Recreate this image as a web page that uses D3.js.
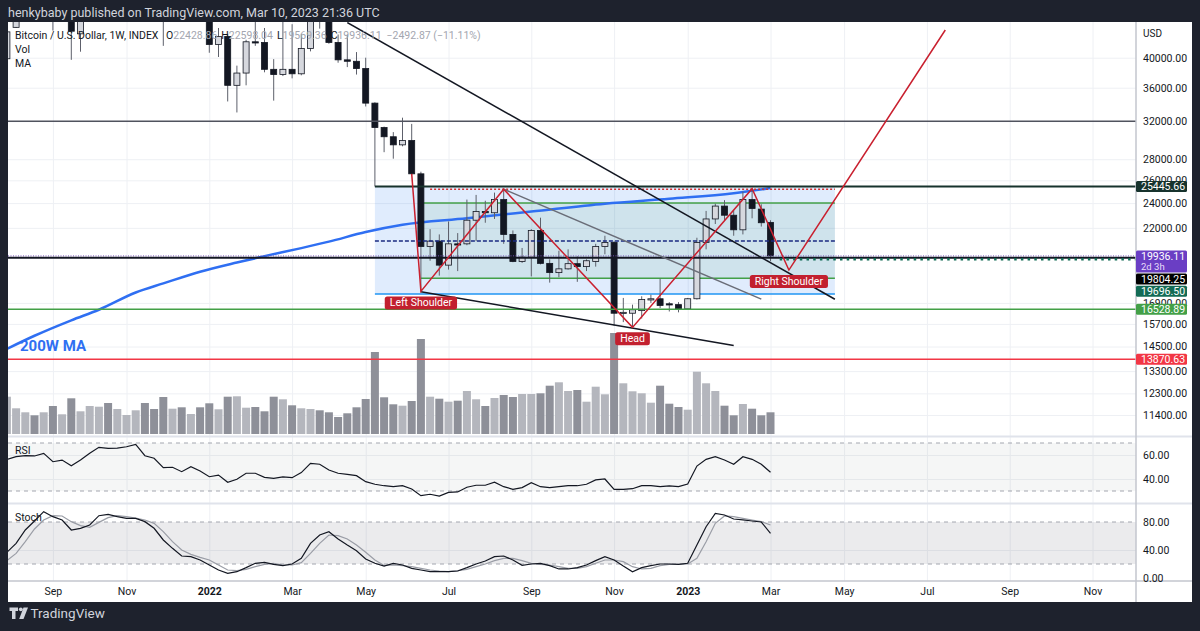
<!DOCTYPE html>
<html>
<head>
<meta charset="utf-8">
<script src="https://cdn.jsdelivr.net/npm/d3@7"></script>
<style>
  body { margin: 0; background: #1e222d; }
  svg { display: block; font-family: Roboto, "Liberation Sans", Arial, sans-serif; }
</style>
</head>
<body>
<svg id="chart" width="1200" height="631"></svg>
<script>
// ---- data ----
// weekly candles, Bitcoin / U.S. Dollar INDEX, first bar = week of 2 Aug 2021
var firstWeek = "2021-08-02";

var open = [39850,44500,47100,49300,48900,51800,46000,47300,43500,48200,
  54700,61500,60900,61300,63300,65500,59700,57200,49400,50100,
  46700,50800,47300,41900,43100,36300,37900,42300,42200,38400,
  37700,38400,37800,41300,46800,46400,42200,39700,39500,38500,
  34100,31300,30300,29450,29900,26600,20600,21000,19300,20800,
  20800,22600,23300,23200,24300,21500,19550,19850,21800,19420,
  18800,19050,19400,19200,19550,20600,20900,16300,16300,16450,
  17100,17150,16850,16800,16550,17150,20900,22700,23750,23000,
  21850,24300,23500,22428.86];
var high = [46000,48100,49500,50500,52900,52900,48800,47400,48400,56100,
  62000,67000,63700,64300,69000,66300,59800,59100,51900,50200,
  51900,52100,47600,44400,43500,38900,42600,45800,44400,39800,
  45400,45000,43500,47000,48200,47200,43400,43400,40800,40000,
  34200,31400,30800,32400,31700,26800,21900,21500,22500,21600,
  24300,24700,24200,24900,25200,21800,20500,21900,22800,19700,
  20300,20400,19900,19700,20800,21400,21000,17200,16800,17300,
  17400,18400,16950,16950,17200,21250,23350,23950,24250,23400,
  25000,25250,23900,22598.04];
var low = [37500,44400,45600,46400,46600,44000,45500,39700,40850,46900,
  53900,59600,58000,59400,62300,55600,53500,41700,47100,45500,
  45600,45700,40700,40100,34300,33000,36300,41700,38000,34400,
  37500,37200,37600,40900,44300,42000,39300,38700,37700,33700,
  25446,28700,28050,29300,26500,17600,19600,18600,19000,18900,
  20700,21000,22400,22700,20800,19500,19450,18550,19350,18150,
  18500,19000,18200,18900,19200,20050,15600,15800,15500,16000,
  16900,16600,16400,16350,16550,17100,20400,22300,22550,21400,
  21500,22750,22100,19569.36];
var close = [43800,47100,49300,48900,51800,46000,47300,43900,48200,54700,
  61500,60900,61300,63300,65500,59700,57200,49400,50100,46700,
  50800,47300,41900,43100,36300,37900,42300,42200,38400,37700,
  38400,37800,41300,46800,46400,42200,39700,39500,38500,34100,
  31300,30300,29450,29900,26600,20600,21000,19300,20800,20750,
  22600,23300,23200,24300,21500,19550,19850,21800,19420,18800,
  19050,19400,19200,19600,20600,20900,16300,16350,16500,17100,
  17150,16750,16780,16550,17150,20900,22700,23750,23000,21850,
  24300,23550,22400,19936.11];
// volume in relative units (bar heights)
var volume = [37.3,25.7,21.7,18.7,21.7,28,19.7,35.7,22.7,28,
  27.3,31,25,19,23.7,31,25,37,25.3,26.7,
  20,26.7,30.7,24.7,37.3,37.7,26.3,27,22.7,37.3,
  34.7,28.7,25.7,25,23.7,21.7,17,20.7,26.7,35,
  82,36.7,29.7,28.3,33,95,37.3,35.3,32.3,33.3,
  43,34.7,28,36,39,37,40,40,40.7,48.3,
  51.7,43,44,32.3,47.3,39.7,101,50.7,42.7,40.7,
  31.3,48.3,30.3,27,24.3,62.3,50.7,43,28.3,18.7,
  30,25.3,18.7,21.7];
var rsi = [56.4,58.6,59.4,59.2,61.4,54.4,55.8,51.1,55.8,61.4,
  66.4,65.6,65.8,66.9,68.9,59.4,57.3,49.4,49.8,46.1,
  50.3,46.7,41.9,43.3,37.3,39.8,44.8,44.8,41.4,40.6,
  41.7,41.1,45.3,53.1,52.3,47.5,44.8,43.9,42.8,37.8,
  35.6,34.4,33.6,34.4,31.7,26.1,27.3,25.8,28.9,29.2,
  33.1,34.8,34.8,37.3,33.6,31.4,32.8,36.9,33.6,32.8,
  33.6,34.4,34.4,35.6,39.2,40,31.4,31.4,31.9,34.4,
  34.4,33.6,34.2,33.6,35.8,50.8,56.4,58.6,55.8,52.3,
  58.6,56.4,52.3,45.6];
var stochK = [36.7,49.5,68.6,81.4,94.8,87.6,82.9,68.6,71,75.7,
  89,91,87.6,85.2,85.2,80.5,71,54.3,42.4,31.4,
  30.5,25.7,18.6,11.4,6.7,9,14.8,21,22.4,19.5,
  17.6,20,28.1,49.5,61.4,66.2,55.7,47.1,39,27.1,
  21,17.1,21,18.6,13.8,11.4,9,9,9,10,
  14.8,20,24.3,30.5,31.4,25.7,18.1,20,21,17.6,
  12.9,12.9,14.8,18.6,24.8,30.5,25.7,17.1,9,14.8,
  17.6,20,20,19.5,21,47.1,73.3,92.4,90,84.3,
  82.9,81.4,80,63.8];
var stochD = [24.8,35.2,51.9,70,82.9,89,88.6,80.5,74.8,72.4,
  79.5,86.2,89,87.6,85.7,82.9,78.1,66.2,51.9,40,
  33.8,29.5,25.7,18.6,11.4,10.5,12.4,16.2,19.5,21,
  18.6,18.6,21.9,35.2,49.5,61.4,60.5,55.7,47.1,36.7,
  25.7,18,18.6,17.6,16.2,13.8,11.4,10,9,10.5,
  12.4,16.2,20,24.8,28.1,28.1,24.8,21,19.5,18.6,
  16.2,13.8,13.8,16.2,21,25.7,25.7,23.3,16.2,12.9,
  13.8,17.6,19.5,19.5,20,28.1,51.9,78.1,88.6,87.6,
  85.2,82.9,80.5,75.7];

// 200W MA, sampled along the blue line (bar index -> price)
var maWeek = [0,3,7,10,14,17,21,25,28,32,35,39,43,50,57,65,72,79,83];
var maValue = [14380,15060,15900,16500,17530,18100,18860,19480,19920,20490,
  20960,21680,22240,22750,23300,23950,24370,24840,25300];

// axes
var monthTicks = ["2021-09-06","2021-11-01","2022-01-03","2022-03-07","2022-05-02","2022-07-04",
  "2022-09-05","2022-11-07","2023-01-02","2023-03-06","2023-05-01","2023-07-03","2023-09-04","2023-11-06"];
var monthLabels = ["Sep","Nov","2022","Mar","May","Jul","Sep","Nov","2023","Mar","May","Jul","Sep","Nov"];
var priceTicks = [40000,36000,32000,28000,26000,24000,22000,16900,15700,14500,13300,12300,11400];
var rsiTicks = [60, 40];
var stochTicks = [80, 40, 0];

// drawings on the chart
var levelPrice = [32000, 25445.66, 25200, 21005, 19936.11, 19804.25, 19696.50, 16528.89, 13870.63];
var levelFrom = [null, "2022-05-09", "2022-06-20", "2022-05-09", null, null, "2023-03-13", null, null];
var levelTo = [null, null, "2023-04-24", "2023-04-24", null, null, null, null, null];
var markPrice = [25445.66, 19936.11, 19804.25, 19696.50, 16528.89, 13870.63];
var boxDates = [["2022-05-09", "2023-04-24"], ["2022-06-13", "2023-04-24"]];
var boxPrices = [[25445.66, 17437], [24010, 18427]];
var trendDates = [["2022-04-18", "2023-04-24"], ["2022-06-13", "2023-02-06"], ["2022-08-15", "2023-02-27"]];
var trendPrices = [[45260, 17120], [17580, 14550], [25200, 17130]];
var hsDates = ["2022-06-06","2022-06-13","2022-08-15","2022-11-21","2023-02-20","2023-03-20","2023-07-17"];
var hsPrices = [26600, 17600, 25200, 15510, 25250, 18970, 44090];
var hsNames = [null, "Left Shoulder", null, "Head", null, "Right Shoulder", null];

// ---- layout ----
var W = 1200, H = 631;
var L = 8, R = 1136, AR = 1192, T = 22, B = 602;
var priceBot = 436, rsiTop = 437, rsiBot = 503, stochTop = 504, timeY = 581;
var FONT = "Roboto, 'Liberation Sans', Arial, sans-serif";

var parse = d3.utcParse("%Y-%m-%d");
var start = parse(firstWeek);
var dates = close.map(function(_, i) { return d3.utcDay.offset(start, 7 * i); });

var x = d3.scaleUtc()
  .domain([parse("2022-01-03"), parse("2023-01-02")])
  .range([209.3, 687.7]);
var y = d3.scaleLog().domain([11400, 40000]).range([415, 57.7]);
var yVol = d3.scaleLinear().domain([0, 100]).range([434, 334]);
var yRsi = d3.scaleLinear().domain([30, 70]).range([491, 443]);
var yStoch = d3.scaleLinear().domain([0, 100]).range([578, 508]);

var svg = d3.select("#chart");
svg.append("rect").attr("width", W).attr("height", H).attr("fill", "#1e222d");
svg.append("rect").attr("x", L).attr("y", T).attr("width", AR - L).attr("height", B - T).attr("fill", "#ffffff");

var defs = svg.append("defs");
function clip(id, x0, y0, w, h) {
  defs.append("clipPath").attr("id", id).append("rect")
    .attr("x", x0).attr("y", y0).attr("width", w).attr("height", h);
}
clip("cp-price", L, T, R - L, priceBot - T);
clip("cp-rsi", L, rsiTop, R - L, rsiBot - rsiTop);
clip("cp-stoch", L, stochTop, R - L, timeY - stochTop);

// ---- grid ----
var grid = svg.append("g");
grid.append("g").attr("transform", "translate(0," + T + ")")
  .call(d3.axisBottom(x).tickValues(monthTicks.map(parse)).tickSize(timeY - T).tickFormat(""))
  .call(function(g) { g.select(".domain").remove(); })
  .selectAll("line").attr("stroke", "#eef0f4");
function hGrid(scale, ticks) {
  grid.append("g").attr("transform", "translate(" + L + ",0)")
    .call(d3.axisRight(scale).tickValues(ticks).tickSize(R - L).tickFormat(""))
    .call(function(g) { g.select(".domain").remove(); })
    .selectAll("line").attr("stroke", "#eef0f4");
}
hGrid(y, priceTicks);
hGrid(yRsi, rsiTicks);
hGrid(yStoch, [40]);

// ---- volume ----
var bars = dates.map(function(d, i) {
  return { d: d, o: open[i], h: high[i], l: low[i], c: close[i], v: volume[i], up: close[i] >= open[i] };
});
var pricePane = svg.append("g").attr("clip-path", "url(#cp-price)");
pricePane.selectAll(".vol").data(bars).join("rect")
  .attr("x", function(b) { return x(b.d) - 4; })
  .attr("width", 8)
  .attr("y", function(b) { return yVol(b.v); })
  .attr("height", function(b) { return yVol(0) - yVol(b.v); })
  .attr("fill", function(b) { return b.up ? "#b4b6bd" : "#8e9099"; });

// ---- boxes ----
var boxFill = ["rgba(33,120,243,0.14)", "rgba(60,150,90,0.10)"];
var boxEdge = ["#2196f3", "#43a047"];
boxDates.forEach(function(bd, k) {
  var x0 = x(parse(bd[0])), x1 = x(parse(bd[1]));
  var y0 = y(boxPrices[k][0]), y1 = y(boxPrices[k][1]);
  pricePane.append("rect").attr("x", x0).attr("y", y0).attr("width", x1 - x0).attr("height", y1 - y0)
    .attr("fill", boxFill[k]);
  if (k === 1) {
    pricePane.append("line").attr("x1", x0).attr("x2", x1).attr("y1", y0).attr("y2", y0)
      .attr("stroke", boxEdge[k]).attr("stroke-width", 1.5);
  }
  pricePane.append("line").attr("x1", x0).attr("x2", x1).attr("y1", y1).attr("y2", y1)
    .attr("stroke", boxEdge[k]).attr("stroke-width", 1.5);
});

// ---- 200W MA ----
var maLine = d3.line().curve(d3.curveMonotoneX)
  .x(function(w) { return x(dates[w]); })
  .y(function(w, k) { return y(maValue[k]); });
pricePane.append("path").datum(maWeek).attr("d", maLine)
  .attr("fill", "none").attr("stroke", "#2f6ff2").attr("stroke-width", 2.5);

// ---- candles ----
var candle = pricePane.selectAll(".candle").data(bars).join("g");
candle.append("line")
  .attr("x1", function(b) { return x(b.d); }).attr("x2", function(b) { return x(b.d); })
  .attr("y1", function(b) { return y(b.h); }).attr("y2", function(b) { return y(b.l); })
  .attr("stroke", "#5d606b").attr("stroke-width", 1);
candle.append("rect")
  .attr("x", function(b) { return x(b.d) - 3; })
  .attr("width", 6)
  .attr("y", function(b) { return y(Math.max(b.o, b.c)); })
  .attr("height", function(b) { return Math.max(1.2, y(Math.min(b.o, b.c)) - y(Math.max(b.o, b.c))); })
  .attr("fill", function(b) { return b.up ? "#d6d8de" : "#131722"; })
  .attr("stroke", "#131722").attr("stroke-width", 0.8);

// ---- horizontal levels ----
var levelStyle = [
  { c: "#50535e", w: 1.5 }, { c: "#17332d", w: 2 }, { c: "#d32f2f", w: 1.5, dash: "2,2" },
  { c: "#1a2a80", w: 1.5, dash: "4,2" }, { c: "#7e57c2", w: 1, dash: "1,1.5" },
  { c: "#131722", w: 2 }, { c: "#136b55", w: 2.5, dash: "2.5,4.2" },
  { c: "#43a047", w: 1.5 }, { c: "#f23645", w: 1.5 }
];
levelPrice.forEach(function(p, k) {
  var s = levelStyle[k];
  pricePane.append("line")
    .attr("x1", levelFrom[k] ? x(parse(levelFrom[k])) : L)
    .attr("x2", levelTo[k] ? x(parse(levelTo[k])) : R)
    .attr("y1", y(p)).attr("y2", y(p))
    .attr("stroke", s.c).attr("stroke-width", s.w)
    .attr("stroke-dasharray", s.dash || null);
});

// ---- trend lines ----
var trendStyle = [{ c: "#131722", w: 1.5 }, { c: "#131722", w: 1.5 }, { c: "#6a6d78", w: 1.5 }];
trendDates.forEach(function(td, k) {
  pricePane.append("line")
    .attr("x1", x(parse(td[0]))).attr("y1", y(trendPrices[k][0]))
    .attr("x2", x(parse(td[1]))).attr("y2", y(trendPrices[k][1]))
    .attr("stroke", trendStyle[k].c).attr("stroke-width", trendStyle[k].w);
});

// ---- head and shoulders ----
var hsLine = d3.line()
  .x(function(d) { return x(parse(d)); })
  .y(function(d, i) { return y(hsPrices[i]); });
pricePane.append("path").datum(hsDates).attr("d", hsLine)
  .attr("fill", "none").attr("stroke", "#c9202f").attr("stroke-width", 1.5);

hsNames.forEach(function(name, i) {
  if (!name) return;
  var px = x(parse(hsDates[i])), py = y(hsPrices[i]);
  var g = svg.append("g");
  var rect = g.append("rect").attr("fill", "#c2202f").attr("rx", 2.5);
  var t = g.append("text").attr("x", px).attr("y", py + 15)
    .attr("text-anchor", "middle").attr("font-size", 10.5).attr("fill", "#ffffff")
    .attr("font-family", FONT).text(name);
  var w = t.node().getComputedTextLength();
  rect.attr("x", px - w / 2 - 5).attr("y", py + 5).attr("width", w + 10).attr("height", 13);
});

// ---- RSI pane ----
var rsiPane = svg.append("g").attr("clip-path", "url(#cp-rsi)");
rsiPane.append("rect").attr("x", L).attr("width", R - L)
  .attr("y", yRsi(70)).attr("height", yRsi(30) - yRsi(70)).attr("fill", "rgba(120,123,134,0.07)");
[70, 30].forEach(function(v) {
  rsiPane.append("line").attr("x1", L).attr("x2", R).attr("y1", yRsi(v)).attr("y2", yRsi(v))
    .attr("stroke", "#a3a6af").attr("stroke-dasharray", "4,4");
});
rsiPane.append("path").datum(rsi)
  .attr("d", d3.line().x(function(v, i) { return x(dates[i]); }).y(function(v) { return yRsi(v); }))
  .attr("fill", "none").attr("stroke", "#131722").attr("stroke-width", 1.2);

// ---- Stoch pane ----
var stochPane = svg.append("g").attr("clip-path", "url(#cp-stoch)");
stochPane.append("rect").attr("x", L).attr("width", R - L)
  .attr("y", yStoch(80)).attr("height", yStoch(20) - yStoch(80)).attr("fill", "rgba(120,123,134,0.15)");
[80, 20].forEach(function(v) {
  stochPane.append("line").attr("x1", L).attr("x2", R).attr("y1", yStoch(v)).attr("y2", yStoch(v))
    .attr("stroke", "#a3a6af").attr("stroke-dasharray", "4,4");
});
var stochLine = d3.line().x(function(v, i) { return x(dates[i]); }).y(function(v) { return yStoch(v); });
stochPane.append("path").datum(stochD).attr("d", stochLine)
  .attr("fill", "none").attr("stroke", "#9a9da6").attr("stroke-width", 1.2);
stochPane.append("path").datum(stochK).attr("d", stochLine)
  .attr("fill", "none").attr("stroke", "#131722").attr("stroke-width", 1.2);

// ---- separators ----
[priceBot + 0.5, rsiBot + 0.5].forEach(function(yy) {
  svg.append("line").attr("x1", L).attr("x2", AR).attr("y1", yy).attr("y2", yy)
    .attr("stroke", "#e0e3eb").attr("stroke-width", 2);
});
svg.append("line").attr("x1", L).attr("x2", AR).attr("y1", timeY).attr("y2", timeY)
  .attr("stroke", "#c3c6ce").attr("stroke-width", 1.5);
svg.append("line").attr("x1", R).attr("x2", R).attr("y1", T).attr("y2", B)
  .attr("stroke", "#c3c6ce").attr("stroke-width", 1.5);

// ---- axes ----
function rightAxis(scale, ticks) {
  var g = svg.append("g").attr("transform", "translate(" + R + ",0)")
    .call(d3.axisRight(scale).tickValues(ticks).tickSize(0).tickPadding(7).tickFormat(d3.format(".2f")));
  g.select(".domain").remove();
  g.attr("font-family", FONT).attr("font-size", 10.5);
  g.selectAll("text").attr("fill", "#131722");
}
rightAxis(y, priceTicks);
rightAxis(yRsi, rsiTicks);
rightAxis(yStoch, stochTicks);

var xAxis = svg.append("g").attr("transform", "translate(0," + timeY + ")")
  .call(d3.axisBottom(x).tickValues(monthTicks.map(parse)).tickSize(0).tickPadding(6.5)
    .tickFormat(function(d, i) { return monthLabels[i]; }));
xAxis.select(".domain").remove();
xAxis.attr("font-family", FONT).attr("font-size", 10.5);
xAxis.selectAll("text").attr("fill", "#131722")
  .attr("font-weight", function(d, i) { return /^\d{4}$/.test(monthLabels[i]) ? "bold" : null; });

svg.append("text").attr("x", R + 7).attr("y", 37).attr("font-size", 10).attr("fill", "#131722")
  .attr("font-family", FONT).text("USD");

// ---- price marks on the axis ----
var markFill = ["#17332d", "#6a3ec4", "#000000", "#136b55", "#43a047", "#f23645"];
var marks = markPrice.map(function(p, k) {
  return { p: p, fill: markFill[k], sub: k === 1 ? "2d 3h" : null, h: k === 1 ? 22 : 11 };
}).sort(function(a, b) { return y(a.p) - y(b.p); });
var prevBottom = -1e9;
marks.forEach(function(m) {
  var top = Math.max(y(m.p) - 5.5, prevBottom + 1.2);
  prevBottom = top + m.h;
  svg.append("rect").attr("x", R).attr("y", top).attr("width", 51).attr("height", m.h)
    .attr("rx", 1.5).attr("fill", m.fill);
  svg.append("text").attr("x", R + 5).attr("y", top + 9.2).attr("font-size", 10.5)
    .attr("fill", "#ffffff").attr("font-family", FONT).text(d3.format(".2f")(m.p));
  if (m.sub) {
    svg.append("text").attr("x", R + 5).attr("y", top + 19.8).attr("font-size", 9.5)
      .attr("fill", "#e6dcfa").attr("font-family", FONT).text(m.sub);
  }
});

// ---- legends ----
var n = close.length - 1;
var legend = svg.append("g").attr("font-family", FONT).attr("font-size", 10.5).attr("fill", "#131722");
legend.append("text").attr("x", 15).attr("y", 39).text("Bitcoin / U.S. Dollar, 1W, INDEX");
var ohlc = legend.append("text").attr("x", 166).attr("y", 39);
[["O", open[n]], ["H", high[n]], ["L", low[n]], ["C", close[n]]].forEach(function(pair, k) {
  ohlc.append("tspan").attr("dx", k ? 4 : 0).text(pair[0]);
  ohlc.append("tspan").attr("fill", "#a3a6af").text(d3.format(".2f")(pair[1]));
});
ohlc.append("tspan").attr("dx", 5).attr("fill", "#a3a6af").text("\u22122492.87 (\u221211.11%)");
legend.append("text").attr("x", 15).attr("y", 53).text("Vol");
legend.append("text").attr("x", 15).attr("y", 67).text("MA");
legend.append("text").attr("x", 15).attr("y", 454).text("RSI");
legend.append("text").attr("x", 15).attr("y", 521).text("Stoch");

svg.append("text").attr("x", 20).attr("y", 351).attr("font-family", FONT)
  .attr("font-size", 15).attr("font-weight", "bold").attr("fill", "#2f6ff2").text("200W MA");

// ---- frame texts ----
svg.append("text").attr("x", 8).attr("y", 17).attr("font-family", FONT).attr("font-size", 12.5)
  .attr("fill", "#d1d4dc").text("henkybaby published on TradingView.com, Mar 10, 2023 21:36 UTC");

var logo = svg.append("g").attr("fill", "#d1d4dc");
logo.append("path").attr("d", "M9.5 607.5h8.5v3.5h-2.5v8h-3.5v-8h-2.5z");
logo.append("circle").attr("cx", 20.8).attr("cy", 609.3).attr("r", 1.9);
logo.append("path").attr("d", "M23.5 607.5h4.5l-4.5 11.5h-4.3z");
svg.append("text").attr("x", 30.5).attr("y", 618).attr("font-family", FONT).attr("font-size", 13.5)
  .attr("fill", "#d1d4dc").text("TradingView");
</script>
</body>
</html>
